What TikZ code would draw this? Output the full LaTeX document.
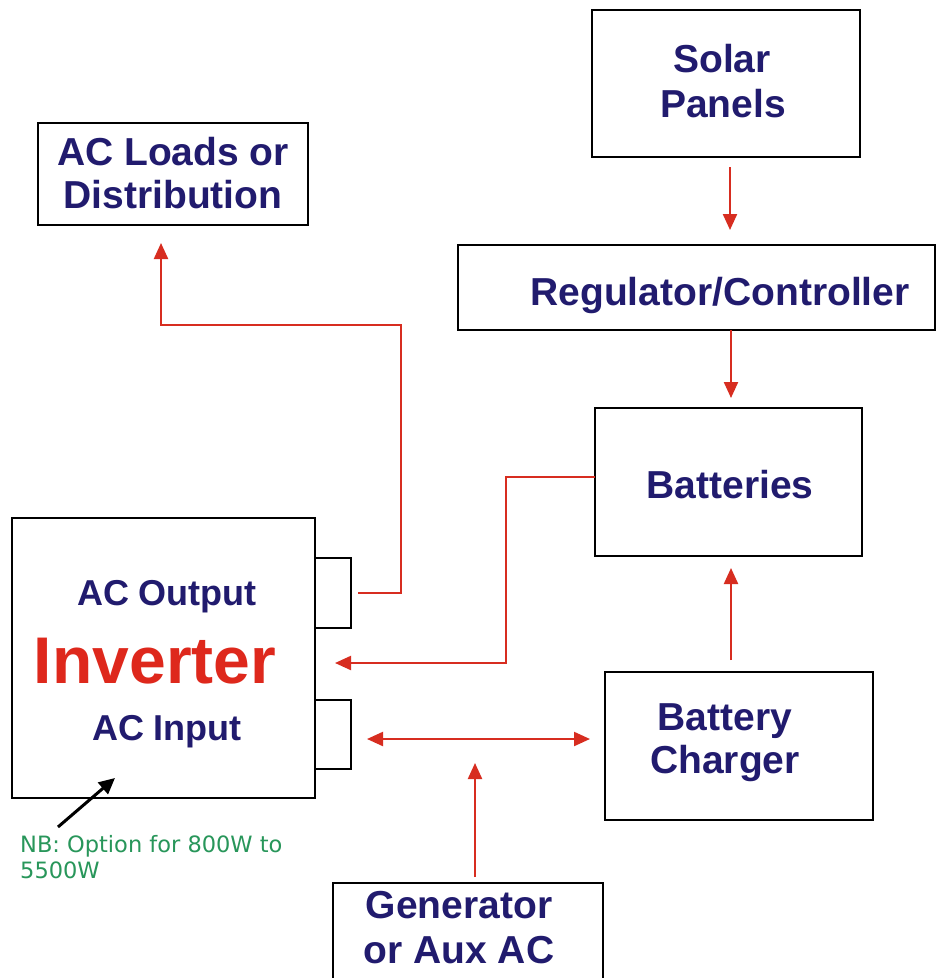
\documentclass[tikz,border=0pt]{standalone}
\usepackage{fontspec}
\setmainfont{Liberation Sans}
\newfontfamily\nbfont{DejaVu Sans}
\usetikzlibrary{arrows.meta,calc}
\definecolor{navy}{RGB}{33,27,110}
\definecolor{lred}{RGB}{215,45,32}
\definecolor{ired}{RGB}{222,40,28}
\definecolor{nbgreen}{RGB}{40,150,90}
\tikzset{
  box/.style={draw=black, line width=2.8pt, rectangle, inner sep=0pt, outer sep=0pt, fill=none},
  lbl/.style={anchor=base, text=navy, font=\bfseries\fontsize{39}{45}\selectfont, inner sep=0pt},
  sublbl/.style={anchor=base, text=navy, font=\bfseries\fontsize{36}{42}\selectfont, inner sep=0pt},
  arr/.style={draw=lred, line width=2.2pt, -{Triangle[length=16pt,width=14pt]}},
  arrboth/.style={draw=lred, line width=2.2pt, {Triangle[length=16pt,width=14pt]}-{Triangle[length=16pt,width=14pt]}},
  blackarr/.style={draw=black, line width=3pt, -{Triangle[length=16pt,width=15pt]}},
  nbtext/.style={anchor=base west, text=nbgreen, font=\nbfont\fontsize{22.5}{26}\selectfont, inner sep=0pt}
}
\begin{document}
\begin{tikzpicture}[x=1pt,y=-1pt]
\clip (0,0) rectangle (937,978);
\useasboundingbox (0,0) rectangle (937,978);
\fill[white] (0,0) rectangle (937,978);
% boxes
\node[box, minimum width=268pt, minimum height=147pt] (solar) at (726,83.5) {};
\node[box, minimum width=477pt, minimum height=85pt] (reg) at (696.5,287.5) {};
\node[box, minimum width=267pt, minimum height=148pt] (batt) at (728.5,482) {};
\node[box, minimum width=270pt, minimum height=102pt] (loads) at (173,174) {};
\node[box, minimum width=303pt, minimum height=280pt] (inv) at (163.5,658) {};
\node[box, minimum width=36pt, minimum height=70pt] (outport) at (333,593) {};
\node[box, minimum width=36pt, minimum height=69pt] (inport) at (333,734.5) {};
\node[box, minimum width=268pt, minimum height=148pt] (charger) at (739,746) {};
\node[box, minimum width=270pt, minimum height=117pt] (gen) at (468,941.5) {};
% labels
\node[lbl] (tsolar1) at (722,72) {Solar};
\node[lbl] (tsolar2) at (723,117) {Panels};
\node[lbl] (treg) at (720,305) {Regulator/Controller};
\node[lbl] (tbatt) at (730,498) {Batteries};
\node[lbl] (tloads1) at (173,165) {AC Loads or};
\node[lbl] (tloads2) at (173,208) {Distribution};
\node[lbl] (tchg1) at (725,730) {Battery};
\node[lbl] (tchg2) at (725,773) {Charger};
\node[lbl] (tgen1) at (459,918) {Generator};
\node[lbl] (tgen2) at (459,963) {or Aux AC};
\node[sublbl] (tout) at (167,605) {AC Output};
\node[anchor=base, text=ired, font=\bfseries\fontsize{66}{72}\selectfont, inner sep=0pt] (tinv) at (155,683) {Inverter};
\node[sublbl] (tin) at (167,740) {AC Input};
\node[nbtext] (nb1) at (20,852) {NB: Option for 800W to};
\node[nbtext] (nb2) at (20,878) {5500W};
% connectors
\draw[arr, shorten <=10pt, shorten >=15pt] ([xshift=4pt]solar.south) -- ([xshift=4pt]solar.south |- reg.north);
\draw[arr, shorten >=10pt] ([xshift=2.5pt]batt.north |- reg.south) -- ([xshift=2.5pt]batt.north);
\draw[arr, shorten <=12pt, shorten >=12pt] ([xshift=2.5pt]batt.south |- charger.north) -- ([xshift=2.5pt]batt.south);
\draw[arr, shorten >=20pt] ([yshift=5pt]batt.west) -- ([yshift=5pt,xshift=-89pt]batt.west) |- ([yshift=-5pt]inv.east);
\draw[arr, shorten <=7pt, shorten >=18pt] (outport.east) -- ++(50,0) -- ++(0,-268) -| ([xshift=-12pt]loads.south);
\draw[arrboth, shorten <=16pt, shorten >=15pt] ([yshift=-4.5pt]inport.east) -- ([yshift=-4.5pt]inport.east -| charger.west);
\coordinate (gentip) at (475,763);
\draw[arr, shorten <=6pt] ([xshift=7pt]gen.north) -- (gentip);
\coordinate (nbtail) at (58,827);
\coordinate (nbtip) at (115,778);
\draw[blackarr] (nbtail) -- (nbtip);
\end{tikzpicture}
\end{document}
